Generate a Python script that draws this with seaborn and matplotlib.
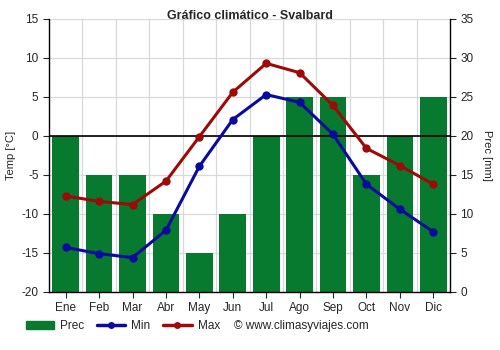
import matplotlib
matplotlib.use("Agg")
import matplotlib.pyplot as plt
import seaborn as sns
import pandas as pd
import numpy as np
from matplotlib.lines import Line2D
from matplotlib.patches import Patch

months = ["Ene", "Feb", "Mar", "Abr", "May", "Jun", "Jul", "Ago", "Sep", "Oct", "Nov", "Dic"]
prec = [20, 15, 15, 10, 5, 10, 20, 25, 25, 15, 20, 25]
tmin = [-14.3, -15.1, -15.6, -12.1, -3.9, 2.1, 5.3, 4.3, 0.2, -6.2, -9.4, -12.3]
tmax = [-7.7, -8.4, -8.8, -5.8, -0.1, 5.6, 9.3, 8.1, 3.9, -1.6, -3.8, -6.2]

sns.set_style("white")
plt.rcParams['font.family'] = ['Liberation Sans', 'DejaVu Sans']
plt.rcParams['axes.unicode_minus'] = False

bar_color = "#077a2f"
min_color = "#0a0a9e"
max_color = "#9c0a0a"

fig = plt.figure(figsize=(5, 3.5), dpi=100)
ax = fig.add_axes([0.098, 0.166, 0.802, 0.780])
ax2 = ax.twinx()

df = pd.DataFrame({"month": months, "prec": prec, "tmin": tmin, "tmax": tmax})

sns.barplot(data=df, x="month", y="prec", ax=ax2, color=bar_color, width=0.8,
            saturation=1, edgecolor="none")
ax2.set_ylim(0, 35)
ax2.set_yticks(range(0, 36, 5))
ax2.set_ylabel("Prec [mm]", fontsize=8, rotation=270, va="bottom", labelpad=6)
ax2.tick_params(axis="y", labelsize=8.5, length=4, direction="out", right=True)

ax.set_zorder(ax2.get_zorder() + 1)
ax.patch.set_visible(False)

sns.lineplot(data=df, x="month", y="tmin", ax=ax, color=min_color, lw=2.2,
             marker="o", markersize=6, markeredgewidth=0, sort=False)
sns.lineplot(data=df, x="month", y="tmax", ax=ax, color=max_color, lw=2.2,
             marker="o", markersize=6, markeredgewidth=0, sort=False)

ax.set_ylim(-20, 15)
ax.set_yticks(range(-20, 16, 5))
ax.set_xlim(-0.5, 11.5)
ax2.set_xlim(-0.5, 11.5)
ax.set_ylabel("Temp [°C]", fontsize=8)
ax.set_xlabel("")
ax2.set_xlabel("")
ax.tick_params(axis="both", labelsize=8.5, length=4, direction="out", left=True, bottom=True)
ax.set_xticks(range(12))
ax.set_xticklabels(months)

# grid on the background axis
for y in range(0, 36, 5):
    ax2.axhline(y, color="#d9d9d9", lw=0.9, zorder=0)
for x in np.arange(0.5, 11.5, 1):
    ax2.axvline(x, color="#d9d9d9", lw=0.9, zorder=0)
for b in ax2.patches:
    b.set_zorder(2)
ax.axhline(0, color="black", lw=1.2, zorder=1)

for a in (ax, ax2):
    for s in a.spines.values():
        s.set_visible(False)
ax.spines["left"].set_visible(True)
ax.spines["bottom"].set_visible(True)
ax2.spines["right"].set_visible(True)
for a in (ax, ax2):
    for s in a.spines.values():
        s.set_color("black")
        s.set_linewidth(1)

fig.text(0.5, 0.955, "Gráfico climático - Svalbard", ha="center", va="center",
         fontsize=9, fontweight="bold")

handles = [Patch(color=bar_color, label="Prec"),
           Line2D([0], [0], color=min_color, lw=2.5, marker="o", markersize=4, label="Min"),
           Line2D([0], [0], color=max_color, lw=2.5, marker="o", markersize=4, label="Max")]
fig.legend(handles=handles, loc="center left", bbox_to_anchor=(0.03, 0.068), ncol=3,
           frameon=False, fontsize=8.5, handlelength=2.4, columnspacing=1.1, handletextpad=0.5)
fig.text(0.468, 0.068, "© www.climasyviajes.com", ha="left", va="center", fontsize=8.5)

fig.savefig("out.png", dpi=100)
